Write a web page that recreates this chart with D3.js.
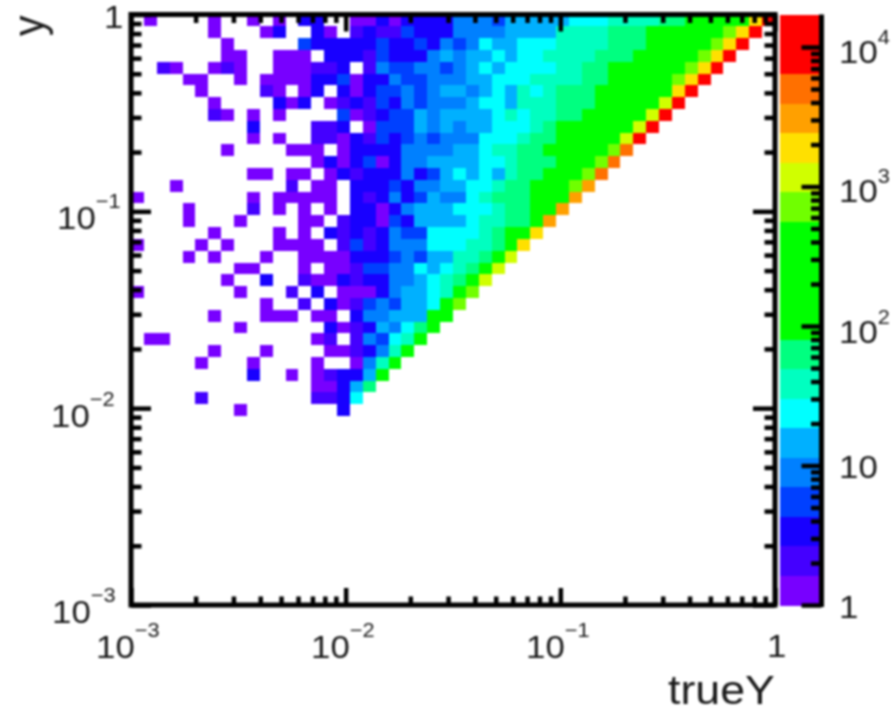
<!DOCTYPE html>
<html>
<head>
<meta charset="utf-8">
<script src="https://cdn.jsdelivr.net/npm/d3@7"></script>
<style>
	html, body {margin: 0; padding: 0; background: #fff}
	svg {display: block; filter: blur(0.8px)}
	text {font-family: "Liberation Sans", Arial, sans-serif; fill: #1a1a1a}
</style>
</head>
<body>
<svg id="chart" width="895" height="713"></svg>
<script>
/*** Data ***/
var decades = [1e-3, 1e-2, 1e-1, 1]
var minorSteps = [2, 3, 4, 5, 6, 7, 8, 9]
var binsPerAxis = 50
var zMax = 17100
var zTicks = [1, 10, 100, 1000, 10000]
var zMinor = [2, 3, 4, 5, 6, 7, 8, 9, 20, 30, 40, 50, 60, 70, 80, 90, 200, 300, 400, 500, 600, 700, 800, 900, 2000, 3000, 4000, 5000, 6000, 7000, 8000, 9000]
var palette = ["#7800ff", "#4400ff", "#1800ff", "#0040ff", "#0080ff", "#00b0ff", "#00ffff", "#00ffc0", "#00ff80", "#00ff00",
	"#00ff00", "#00ff00", "#00ff00", "#70ff00", "#d0ff00", "#ffe000", "#ffa000", "#ff7000", "#ff0000", "#ff0000"]

// entries per row, top row first, left to right. Trailing empty bins left out
var counts = [
	[0,1,0,0,0,0,1,0,0,1,0,1,0,3,3,0,0,1,1,3,1,3,3,3,3,9,9,9,5,15,15,15,15,15,24,24,24,39,39,39,39,63,63,100,100,100,100,100,1900,8300],
	[0,0,0,0,0,0,1,0,0,0,1,3,0,0,3,1,0,2,3,2,2,5,3,3,3,9,9,9,9,15,15,15,15,39,39,39,39,63,63,63,100,100,100,100,100,100,730,1900,8300],
	[0,0,0,0,0,0,0,1,0,0,0,0,0,5,3,3,3,3,3,5,3,3,5,3,9,5,9,24,15,15,24,24,24,39,39,39,39,63,63,63,100,100,100,100,100,730,1900,8300],
	[0,0,0,0,0,0,0,1,1,0,0,1,1,1,0,3,3,3,2,5,3,3,3,9,15,9,15,15,24,15,24,24,39,39,39,39,63,63,63,100,100,100,100,100,730,1900,8300],
	[0,0,2,1,0,0,1,2,1,0,0,1,1,1,2,2,3,0,2,9,5,5,9,9,5,9,15,24,15,24,24,24,24,39,39,63,63,100,100,100,100,100,100,730,1900,8300],
	[0,0,0,0,1,1,0,0,1,0,1,1,1,1,3,3,5,1,3,3,9,5,5,9,9,9,15,15,24,24,24,39,39,39,39,63,63,100,100,100,100,100,730,1900,8300],
	[0,0,0,0,0,1,0,0,0,0,2,1,0,1,3,0,3,1,3,5,5,9,5,9,15,15,9,15,24,15,39,24,39,63,63,63,100,100,100,100,100,100,1900,8300],
	[0,0,0,0,0,0,1,0,0,0,0,3,1,3,0,1,2,3,2,5,3,9,5,9,9,9,15,24,24,15,39,39,39,63,63,63,100,100,100,100,100,1200,8300],
	[0,0,0,0,0,0,2,1,0,1,0,1,0,0,0,0,5,1,2,3,5,5,15,9,15,15,15,15,24,39,24,39,39,63,63,100,100,100,100,100,1200,8300],
	[0,0,0,0,0,0,0,0,0,3,0,0,0,0,2,2,3,0,1,5,5,5,15,9,15,9,15,15,24,24,24,39,63,100,100,100,100,100,100,1200,8300],
	[0,0,0,0,0,0,0,0,0,1,0,1,0,0,2,2,1,3,2,5,3,5,9,5,9,9,9,24,24,24,39,63,63,100,100,100,100,100,1200,8300],
	[0,0,0,0,0,0,0,1,0,0,0,0,1,1,1,0,1,3,3,3,3,9,9,9,9,15,15,24,39,39,63,63,100,100,100,100,100,730,5100],
	[0,0,0,0,0,0,0,0,0,0,0,0,0,0,1,3,1,3,5,1,3,9,9,15,15,15,15,24,24,39,63,63,63,100,100,100,730,5100],
	[0,0,0,0,0,0,0,0,0,1,1,0,1,1,0,1,3,2,3,3,3,9,3,5,15,24,15,24,15,39,63,63,100,100,100,730,5100],
	[0,0,0,1,0,0,0,0,0,0,0,0,2,0,1,1,0,3,3,3,5,3,9,9,15,15,24,24,39,63,63,100,100,100,730,3100],
	[1,0,0,0,0,0,0,0,0,1,0,1,1,1,1,1,0,3,2,3,9,3,5,15,9,9,24,39,63,63,63,100,100,100,3100],
	[0,0,0,0,1,0,0,0,0,2,0,1,0,1,0,1,0,3,3,1,3,9,15,15,15,24,24,24,39,63,63,100,100,3100],
	[0,0,0,0,1,0,0,0,1,0,0,0,0,1,1,0,2,3,3,1,5,3,15,15,15,15,24,39,39,63,63,100,3100],
	[0,0,0,0,0,0,1,0,0,0,0,1,0,1,0,3,2,3,2,3,9,5,5,24,24,24,24,39,63,100,100,1900],
	[1,0,0,0,0,1,0,1,0,0,0,1,1,1,1,0,2,5,2,3,9,9,9,24,24,24,39,39,63,100,1900],
	[0,0,0,0,1,0,1,0,0,0,1,0,0,1,1,1,1,3,3,3,5,9,5,15,15,39,39,63,100,1200],
	[0,0,0,0,0,0,0,0,1,1,0,0,0,1,0,1,1,2,5,5,9,9,24,15,24,39,63,100,1200],
	[0,0,0,0,0,0,0,1,0,0,3,0,0,2,1,1,3,2,3,3,9,9,15,24,39,63,100,1200],
	[1,0,0,0,0,0,0,0,1,0,0,0,2,0,3,0,1,1,1,3,9,15,15,24,39,100,730],
	[0,0,0,0,0,0,0,0,0,0,1,0,0,2,0,3,1,2,5,9,5,15,15,24,100,730],
	[0,0,0,0,0,0,1,0,0,0,1,1,1,0,1,1,0,3,9,9,15,15,15,100,100],
	[0,0,0,0,0,0,0,0,1,0,0,0,0,0,0,3,1,2,3,15,9,24,63,100],
	[0,1,1,0,0,0,0,0,0,0,0,0,0,0,1,2,0,2,9,5,24,39,100],
	[0,0,0,0,0,0,1,0,0,0,1,0,0,0,0,1,1,2,3,9,39,100],
	[0,0,0,0,0,1,0,0,0,1,0,0,0,0,1,0,0,1,9,39,100],
	[0,0,0,0,0,0,0,0,0,3,0,0,1,0,1,2,3,3,15,100],
	[0,0,0,0,0,0,0,0,0,0,0,0,0,0,1,1,3,15,63],
	[0,0,0,0,0,2,0,0,0,0,0,0,0,0,2,2,3,24],
	[0,0,0,0,0,0,0,0,1,0,0,0,0,0,0,0,3]
]

/*** Scales ***/
var aspect = 1.09
var x = d3.scaleLog().domain([1e-3, 1]).range([131, 775])
var y = d3.scaleLog().domain([1e-3, 1]).range([605, 14.5])
var z = d3.scaleLog().domain([1, zMax]).range([605, 14.5])
var color = d3.scaleQuantize().domain([0, Math.log10(zMax)]).range(palette)

var minors = decades.slice(0, 3).flatMap((d) => minorSteps.map((m) => d * m))
var binEdge = (i) => Math.pow(10, -3 + 3 * i / binsPerAxis)

var svg = d3.select("#chart")

/*** Cells ***/
var cells = counts.flatMap((row, r) => row.map((v, c) => ({r: r, c: c, v: v}))).filter((d) => d.v > 0)
svg.append("g")
	.attr("class", "cells")
	.attr("shape-rendering", "crispEdges")
	.selectAll("rect")
	.data(cells)
	.enter()
	.append("rect")
	.attr("x", (d) => x(binEdge(d.c)))
	.attr("y", (d) => y(binEdge(binsPerAxis - d.r)))
	.attr("width", (d) => x(binEdge(d.c + 1)) - x(binEdge(d.c)))
	.attr("height", (d) => y(binEdge(binsPerAxis - d.r - 1)) - y(binEdge(binsPerAxis - d.r)))
	.attr("fill", (d) => color(Math.log10(d.v)))

/*** Colour bar ***/
var bandHeight = (z.range()[0] - z.range()[1]) / palette.length
svg.append("g")
	.attr("class", "bar")
	.attr("shape-rendering", "crispEdges")
	.selectAll("rect")
	.data(palette)
	.enter()
	.append("rect")
	.attr("x", 780)
	.attr("width", 40)
	.attr("y", (d, i) => z.range()[0] - (i + 1) * bandHeight)
	.attr("height", bandHeight + 0.5)
	.attr("fill", (d) => d)

/*** Axes ***/
function ticks(axis, scale, values, size, tx, ty) {
	var g = svg.append("g")
		.attr("transform", "translate(" + tx + "," + ty + ")")
		.call(axis(scale).tickValues(values).tickSize(size).tickFormat(""))
	g.select(".domain").remove()
	g.selectAll("line").attr("stroke", "#000").attr("stroke-width", 4.5)
}

ticks(d3.axisBottom, x, decades, -17, 0, 605)
ticks(d3.axisBottom, x, minors, -8.5, 0, 605)
ticks(d3.axisTop, x, decades, -17, 0, 14.5)
ticks(d3.axisTop, x, minors, -8.5, 0, 14.5)
ticks(d3.axisLeft, y, decades, -20, 131, 0)
ticks(d3.axisLeft, y, minors, -10.5, 131, 0)
ticks(d3.axisRight, y, decades, -22, 775, 0)
ticks(d3.axisRight, y, minors, -10.5, 775, 0)
ticks(d3.axisRight, z, zTicks, -20, 821.5, 0)
ticks(d3.axisRight, z, zMinor, -10.5, 821.5, 0)

// frames
svg.append("rect")
	.attr("x", 131).attr("y", 14.5).attr("width", 644).attr("height", 590.5)
	.attr("fill", "none").attr("stroke", "#000").attr("stroke-width", 5)
svg.append("line")
	.attr("x1", 821.5).attr("x2", 821.5).attr("y1", 14.5).attr("y2", 607)
	.attr("stroke", "#000").attr("stroke-width", 5)

/*** Labels ***/
function label(tx, ty, base, exp, size, rise) {
	var t = svg.append("text")
		.attr("transform", "translate(" + tx + "," + ty + ") scale(" + aspect + ",1)")
		.attr("font-size", size || 32)
	t.append("tspan").text(base)
	if (exp) t.append("tspan").attr("dy", -(rise || 21)).attr("font-size", 20).text(exp)
}

label(96, 658, "10", "\u22123")
label(311, 658, "10", "\u22122")
label(526, 658, "10", "\u22121")
label(767, 657, "1")

label(52, 623, "10", "\u22123")
label(51, 427, "10", "\u22122")
label(57, 229, "10", "\u22121")
label(104, 28, "1")

label(839, 63, "10", "4", 32, 19)
label(839, 202, "10", "3", 32, 19)
label(839, 343, "10", "2", 32, 19)
label(839, 478, "10")
label(839, 618, "1")

label(668, 704, "trueY", null, 41)
svg.append("text")
	.attr("transform", "translate(44,36) rotate(-90) scale(1," + aspect + ")")
	.attr("font-size", 41)
	.text("y")
</script>
</body>
</html>
